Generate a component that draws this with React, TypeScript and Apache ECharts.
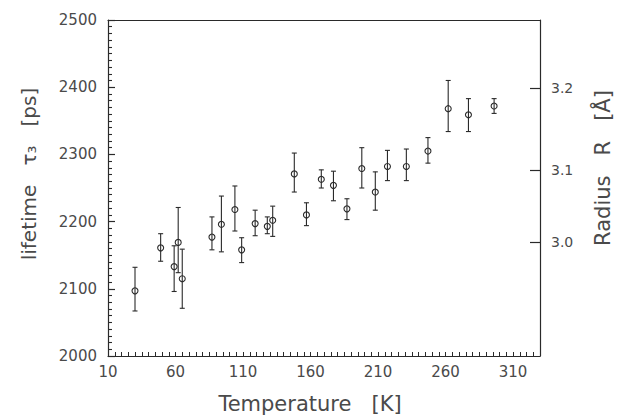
import React, { useEffect, useRef } from "react";
import * as echarts from "echarts";

// Temperature [K]
const temperature = [30, 49, 59, 62, 65, 87, 94, 104, 109, 119, 128, 132, 148, 157, 168, 177, 187, 198, 208, 217, 231, 247, 262, 277, 296];
// lifetime tau3 [ps]
const lifetime = [2097, 2161, 2133, 2169, 2115, 2177, 2196, 2218, 2158, 2197, 2193, 2202, 2271, 2210, 2263, 2254, 2219, 2279, 2244, 2282, 2282, 2305, 2368, 2359, 2372];
const lifetimeLow = [2067, 2141, 2096, 2124, 2071, 2158, 2155, 2186, 2139, 2179, 2182, 2178, 2244, 2194, 2250, 2231, 2203, 2250, 2217, 2261, 2261, 2287, 2334, 2334, 2361];
const lifetimeHigh = [2132, 2182, 2164, 2221, 2159, 2207, 2238, 2253, 2176, 2217, 2207, 2223, 2302, 2228, 2277, 2275, 2234, 2310, 2274, 2306, 2308, 2325, 2410, 2383, 2383];

const xTickLabels = [10, 60, 110, 160, 210, 260, 310];
const radiusLabels = ["3.0", "3.1", "3.2"];
const radiusLifetime = [2170, 2277, 2399];

const FONT = "DejaVu Sans";
const TEXT = "#4a4a4a";
const LINE = "#2a2a2a";

export default function App() {
  const ref = useRef<HTMLDivElement>(null);
  useEffect(() => {
    if (!ref.current) return;
    const chart = echarts.init(ref.current, undefined, { renderer: "svg" });
    const data = temperature.map((t, i) => [t, lifetime[i], lifetimeLow[i], lifetimeHigh[i]]);
    chart.setOption({
      animation: false,
      backgroundColor: "#fff",
      grid: { left: 108, right: 83, top: 20, bottom: 64 },
      xAxis: [
        {
          type: "value",
          min: 10,
          max: 330,
          interval: 5,
          position: "bottom",
          axisLine: { show: true, onZero: false, lineStyle: { color: LINE, width: 1.2 } },
          axisTick: { show: true, inside: true, length: 4, lineStyle: { color: LINE, width: 1 } },
          splitLine: { show: false },
          axisLabel: {
            customValues: xTickLabels,
            formatter: (v: number) => String(v),
            margin: 8,
            color: TEXT,
            fontFamily: FONT,
            fontSize: 15,
          },
        },
        {
          type: "value",
          min: 10,
          max: 330,
          position: "top",
          axisLine: { show: true, onZero: false, lineStyle: { color: LINE, width: 1.2 } },
          axisTick: { show: false },
          axisLabel: { show: false },
          splitLine: { show: false },
        },
      ],
      yAxis: [
        {
          type: "value",
          min: 2000,
          max: 2500,
          interval: 100,
          position: "left",
          axisLine: { show: true, onZero: false, lineStyle: { color: LINE, width: 1.2 } },
          axisTick: { show: true, inside: true, length: 7, lineStyle: { color: LINE, width: 1.2 } },
          minorTick: { show: true, splitNumber: 10, length: 4, lineStyle: { color: LINE, width: 1.1 } },
          splitLine: { show: false },
          axisLabel: { formatter: (v: number) => String(v), margin: 11, color: TEXT, fontFamily: FONT, fontSize: 15 },
        },
        {
          type: "value",
          min: 2000,
          max: 2500,
          position: "right",
          axisLine: { show: true, onZero: false, lineStyle: { color: LINE, width: 1.2 } },
          axisTick: { show: true, inside: true, length: 10, customValues: radiusLifetime, lineStyle: { color: LINE, width: 1.2 } },
          splitLine: { show: false },
          axisLabel: {
            customValues: radiusLifetime,
            margin: 11,
            color: TEXT,
            fontFamily: FONT,
            fontSize: 14,
            formatter: (v: number) => {
              let best = 0;
              for (let i = 0; i < radiusLifetime.length; i++) {
                if (Math.abs(radiusLifetime[i] - v) < Math.abs(radiusLifetime[best] - v)) best = i;
              }
              return radiusLabels[best];
            },
          },
        },
      ],
      graphic: [
        {
          type: "text",
          x: 29,
          y: 174,
          rotation: Math.PI / 2,
          style: {
            text: "lifetime   τ₃   [ps]",
            fontFamily: FONT,
            fontSize: 20,
            fill: TEXT,
            align: "center",
            verticalAlign: "middle",
          },
        },
        {
          type: "text",
          x: 603,
          y: 168,
          rotation: Math.PI / 2,
          style: {
            text: "Radius   R   [Å]",
            fontFamily: FONT,
            fontSize: 21,
            fill: TEXT,
            align: "center",
            verticalAlign: "middle",
          },
        },
        {
          type: "text",
          x: 310,
          y: 404,
          style: {
            text: "Temperature   [K]",
            fontFamily: FONT,
            fontSize: 21,
            fill: TEXT,
            align: "center",
            verticalAlign: "middle",
          },
        },
      ],
      series: [
        {
          type: "custom",
          xAxisIndex: 0,
          yAxisIndex: 0,
          encode: { x: 0, y: 1 },
          data,
          renderItem: (params: any, api: any) => {
            const x = api.value(0);
            const c = api.coord([x, api.value(1)]);
            const lo = api.coord([x, api.value(2)]);
            const hi = api.coord([x, api.value(3)]);
            const cap = 2.5;
            const st = { stroke: LINE, lineWidth: 1.1, fill: "none" };
            return {
              type: "group",
              children: [
                { type: "line", shape: { x1: c[0], y1: lo[1], x2: c[0], y2: hi[1] }, style: st },
                { type: "line", shape: { x1: c[0] - cap, y1: lo[1], x2: c[0] + cap, y2: lo[1] }, style: st },
                { type: "line", shape: { x1: c[0] - cap, y1: hi[1], x2: c[0] + cap, y2: hi[1] }, style: st },
                { type: "circle", shape: { cx: c[0], cy: c[1], r: 3 }, style: { stroke: LINE, lineWidth: 1.1, fill: "none" } },
              ],
            };
          },
        },
      ],
    });
    return () => chart.dispose();
  }, []);
  return <div ref={ref} style={{ position: "fixed", left: 0, top: 0, width: 623, height: 420 }} />;
}
